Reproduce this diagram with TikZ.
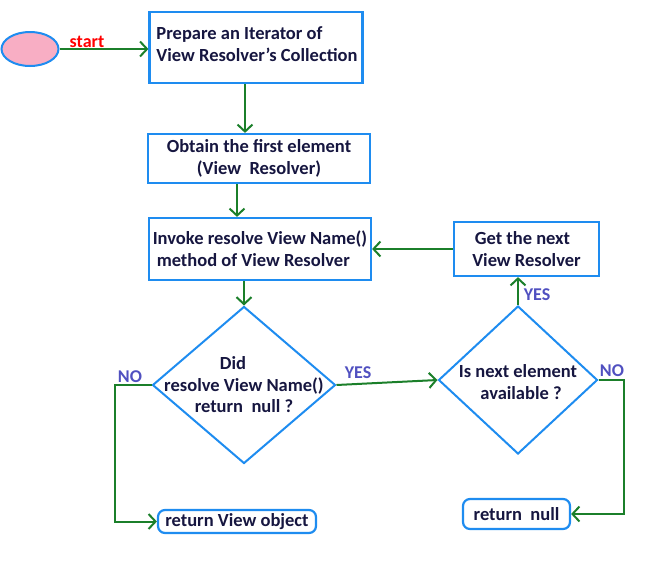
\documentclass[tikz,border=0pt]{standalone}
\usepackage{fontspec}
\setmainfont{Carlito}
\usetikzlibrary{shapes.geometric,arrows.meta}
\definecolor{boxblue}{HTML}{1E8CF0}
\definecolor{flowgreen}{HTML}{1B7F2A}
\definecolor{inkblue}{HTML}{161640}
\definecolor{labblue}{HTML}{5050C0}
\definecolor{startpink}{HTML}{F8AEC4}

\begin{document}
\begin{tikzpicture}[x=1pt,y=-1pt,
    box/.style={draw=boxblue, line width=2.2pt, fill=white, inner sep=0pt,
        text=inkblue, font=\fontsize{18.5}{22}\selectfont\bfseries},
    endbox/.style={box, rounded corners=7pt},
    decision/.style={draw=boxblue, line width=2pt, diamond, inner sep=0pt},
    txt/.style={text=inkblue, align=center, font=\fontsize{18.5}{21.5}\selectfont\bfseries},
    lab/.style={text=labblue, font=\fontsize{18}{20}\selectfont\bfseries},
    flow/.style={draw=flowgreen, line width=2pt,
        -{Straight Barb[length=7pt,width=15pt,line width=2pt]}}]
    \useasboundingbox (0,0) rectangle (666,562);

    % Start and first steps
    \node[ellipse, draw=boxblue, fill=startpink, line width=2pt,
        minimum width=57, minimum height=34, inner sep=0pt] (start) at (30,49) {};
    \node[box, minimum width=213, minimum height=71, align=left] (prep) at (256,47.5)
        {\hspace{2pt}Prepare an Iterator of\\\hspace{2pt}View Resolver's Collection\\[-16pt]};
    \node[box, minimum width=222, minimum height=49, align=center] (obtain) at (259,158.5)
        {Obtain the first element\\(View\ \ Resolver)\hspace{10pt}};
    \node[box, minimum width=222, minimum height=62, align=left] (invoke) at (260,249)
        {Invoke resolve View Name()\\\hspace{4pt}method of View Resolver};

    % Decisions
    \node[decision, minimum width=183, minimum height=157] (did) at (244,385) {};
    \node[txt] at (did) {\hspace{-22pt}Did\\resolve View Name()\\return\ \ null ?};
    \node[decision, minimum width=159, minimum height=148] (avail) at (518,380) {};
    \node[txt] at ([yshift=-2]avail) {Is next element\\\hspace{6pt}available ?};

    % Next resolver and results
    \node[box, minimum width=145, minimum height=54, align=center] (next) at (526.5,249)
        {\hspace{-8pt}Get the next\\View Resolver};
    \node[endbox, minimum width=158, minimum height=23] (retview) at (237,521.5)
        {return View object};
    \node[endbox, minimum width=107, minimum height=30] (retnull) at (516.5,514)
        {return\ \ null};

    % Connectors
    \draw[flow] (start.east) -- (start.east -| prep.west);
    \node[text=red, font=\fontsize{18}{20}\selectfont\bfseries] at (87,42) {start};
    \draw[flow] ([xshift=-11]prep.south) -- ([xshift=-11]prep.south |- obtain.north);
    \draw[flow] ([xshift=-22]obtain.south) -- ([xshift=-22]obtain.south |- invoke.north);
    \draw[flow] (invoke.south -| did.north) -- (did.north);
    \draw[flow] (did.east) -- (avail.west);
    \node[lab] at (358,373) {YES};
    \draw[flow] (did.west) -- ++(-37,0) |- (retview.west);
    \node[lab] at (130,377) {NO};
    \draw[flow] (avail.north) -- (avail.north |- next.south);
    \node[lab] at (537,295) {YES};
    \draw[flow] (avail.east) -- ++(25,0) |- (retnull.east);
    \node[lab] at (612,371) {NO};
    \draw[flow] (next.west) -- (next.west -| invoke.east);
\end{tikzpicture}
\end{document}
